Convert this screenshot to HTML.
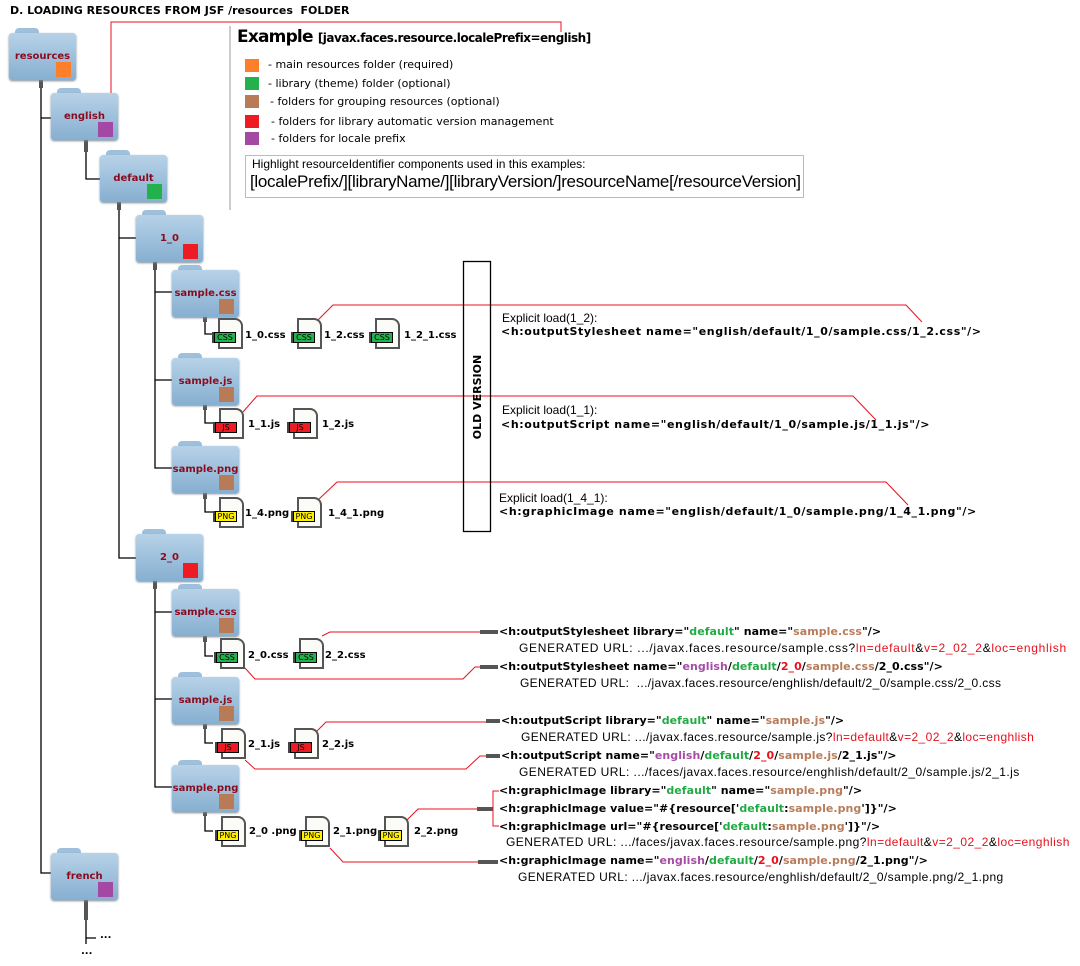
<!DOCTYPE html>
<html><head><meta charset="utf-8"><style>
*{margin:0;padding:0;box-sizing:border-box}
body{width:1080px;height:966px;background:#fff;position:relative;overflow:hidden;font-family:"DejaVu Sans","Liberation Sans",sans-serif}
.a{position:absolute;white-space:nowrap}
.f{position:absolute;width:67px;height:52px}
.f .t{position:absolute;left:6px;top:0;width:24px;height:8px;background:#9fc0dc;border-radius:4px 4px 0 0}
.f .b{position:absolute;left:0;top:5px;width:67px;height:47px;background:linear-gradient(#b7d2e8,#86afd0);border-radius:3px;box-shadow:0 1px 2px #789}
.f .l{position:absolute;left:0;width:67px;top:23px;text-align:center;font-size:10px;font-weight:bold;color:#8b0a1e}
.f .s{position:absolute;right:5px;bottom:3px;width:15px;height:15px}
.i{position:absolute;width:25px;height:31px;background:#fbfbf8;border:2px solid #555;border-top-right-radius:8px}
.i .g{position:absolute;left:-6px;top:12px;width:22px;height:11px;border:1px solid #000;font-size:8px;line-height:9px;text-align:center;color:#000;box-shadow:-2px 0 0 #444}
.fl{position:absolute;font-size:10px;font-weight:bold;color:#000}
.c{position:absolute;white-space:nowrap;font-size:11px;font-weight:bold;color:#000;font-family:"DejaVu Sans",sans-serif;letter-spacing:0.05px}
.e{letter-spacing:0.6px}
.u{position:absolute;white-space:nowrap;font-size:12px;color:#000;font-family:"Liberation Sans",sans-serif;letter-spacing:0.6px}
.gr{color:#22aa44}.br{color:#b87c5a}.pu{color:#a64ca6}.rd{color:#e8101c}
.leg{position:absolute;left:245px;width:14px;height:13px}
.lt{position:absolute;left:268px;font-size:11px;color:#000}
</style></head><body>
<svg class="a" style="left:0;top:0" width="1080" height="966">
<g stroke="#000" stroke-width="1.3" fill="none">
<path d="M41 86V873H51M41 118H51"/>
<path d="M86 150V179H100"/>
<path d="M119 206V558H136M119 238H136"/>
<path d="M155 268V468H172M155 292H172M155 380H172"/>
<path d="M155 587V787H172M155 612H172M155 699H172"/>
<path d="M205 320V334H213M205 408V423H213M205 497V512H213"/>
<path d="M205 640V656H213M205 727V743H213M205 814V831H213"/>
<path d="M86 903V944M86 938H96"/>
</g>
<g stroke="#555" stroke-width="4">
<path d="M41 80V88M86 140V152M119 200V210M155 262V270M155 580V589M205 317V322M205 405V410M205 493V499M205 635V642M205 724V729M205 812V816M86 900V920"/>
<path d="M480 632H498M480 667H498M486 721H500M486 756H500M477 809H493M478 862H498"/>
</g>
<g stroke="#e8101c" stroke-width="1" fill="none">
<path d="M111 95V22H561V32"/>
<path d="M318 320L333 305H906L922 322"/>
<path d="M243 412L257 396H853L876 420"/>
<path d="M318 500L337 482H886L908 505"/>
<path d="M322 636L330 632H480"/>
<path d="M245 668L255 679H463L475 667H480"/>
<path d="M316 732L326 722H486"/>
<path d="M245 760L255 769H466L480 756H486"/>
<path d="M407 820L418 809H477"/>
<path d="M499 791H493V826H499"/>
<path d="M330 848L343 862H478"/>
</g>
<path d="M230 26V210" stroke="#bbb" stroke-width="1.5"/>
<rect x="463.5" y="261.5" width="27" height="270" fill="none" stroke="#000" stroke-width="1.3"/>
<rect x="245.5" y="155.5" width="558" height="42" fill="none" stroke="#bbb"/>
<text x="481" y="397" transform="rotate(-90 481 397)" text-anchor="middle" font-size="11" font-weight="bold" font-family="DejaVu Sans,sans-serif" fill="#000">OLD VERSION</text>
</svg>

<div class="a" style="left:10px;top:4px;font-size:11px;font-weight:bold">D. LOADING RESOURCES FROM JSF /resources&nbsp; FOLDER</div>
<div class="a" style="left:237px;top:27px;font-size:17px;font-weight:bold;letter-spacing:-0.8px">Example <span style="font-size:12px;letter-spacing:-0.5px">[javax.faces.resource.localePrefix=english]</span></div>
<div class="leg" style="top:59px;background:#fd7f2b"></div><div class="lt" style="top:58px">- main resources folder (required)</div>
<div class="leg" style="top:77px;background:#22b14c"></div><div class="lt" style="top:77px">- library (theme) folder (optional)</div>
<div class="leg" style="top:95px;background:#b97a57"></div><div class="lt" style="top:95px;left:270px">- folders for grouping resources (optional)</div>
<div class="leg" style="top:115px;background:#ed1c24"></div><div class="lt" style="top:115px;left:271px">- folders for library automatic version management</div>
<div class="leg" style="top:132px;background:#a349a4"></div><div class="lt" style="top:132px;left:271px">- folders for locale prefix</div>
<div class="a" style="left:252px;top:157px;font-size:12px;font-family:'Liberation Sans',sans-serif">Highlight resourceIdentifier components used in this examples:</div>
<div class="a" style="left:250px;top:172px;font-size:17px;font-family:'Liberation Sans',sans-serif;letter-spacing:-0.3px">[localePrefix/][libraryName/][libraryVersion/]resourceName[/resourceVersion]</div>

<div class="f" style="left:9px;top:28px"><div class="t"></div><div class="b"></div><div class="l">resources</div><div class="s" style="background:#fd7f2b"></div></div>
<div class="f" style="left:51px;top:88px"><div class="t"></div><div class="b"></div><div class="l">english</div><div class="s" style="background:#a349a4"></div></div>
<div class="f" style="left:100px;top:150px"><div class="t"></div><div class="b"></div><div class="l">default</div><div class="s" style="background:#22b14c"></div></div>
<div class="f" style="left:136px;top:210px"><div class="t"></div><div class="b"></div><div class="l">1_0</div><div class="s" style="background:#ed1c24"></div></div>
<div class="f" style="left:172px;top:265px"><div class="t"></div><div class="b"></div><div class="l">sample.css</div><div class="s" style="background:#b97a57"></div></div>
<div class="f" style="left:172px;top:353px"><div class="t"></div><div class="b"></div><div class="l">sample.js</div><div class="s" style="background:#b97a57"></div></div>
<div class="f" style="left:172px;top:441px"><div class="t"></div><div class="b"></div><div class="l">sample.png</div><div class="s" style="background:#b97a57"></div></div>
<div class="f" style="left:136px;top:529px"><div class="t"></div><div class="b"></div><div class="l">2_0</div><div class="s" style="background:#ed1c24"></div></div>
<div class="f" style="left:172px;top:584px"><div class="t"></div><div class="b"></div><div class="l">sample.css</div><div class="s" style="background:#b97a57"></div></div>
<div class="f" style="left:172px;top:672px"><div class="t"></div><div class="b"></div><div class="l">sample.js</div><div class="s" style="background:#b97a57"></div></div>
<div class="f" style="left:172px;top:760px"><div class="t"></div><div class="b"></div><div class="l">sample.png</div><div class="s" style="background:#b97a57"></div></div>
<div class="f" style="left:51px;top:848px"><div class="t"></div><div class="b"></div><div class="l">french</div><div class="s" style="background:#a349a4"></div></div>
<div class="fl" style="left:100px;top:930px">...</div>
<div class="fl" style="left:81px;top:946px">...</div>

<div class="i" style="left:218px;top:318px"><div class="g" style="background:#22b14c">CSS</div></div><div class="fl" style="left:245px;top:330px">1_0.css</div>
<div class="i" style="left:297px;top:318px"><div class="g" style="background:#22b14c">CSS</div></div><div class="fl" style="left:324px;top:330px">1_2.css</div>
<div class="i" style="left:375px;top:318px"><div class="g" style="background:#22b14c">CSS</div></div><div class="fl" style="left:404px;top:330px">1_2_1.css</div>
<div class="i" style="left:219px;top:408px"><div class="g" style="background:#ed1c24">JS</div></div><div class="fl" style="left:248px;top:419px">1_1.js</div>
<div class="i" style="left:293px;top:408px"><div class="g" style="background:#ed1c24">JS</div></div><div class="fl" style="left:322px;top:419px">1_2.js</div>
<div class="i" style="left:219px;top:497px"><div class="g" style="background:#ffef00">PNG</div></div><div class="fl" style="left:245px;top:508px">1_4.png</div>
<div class="i" style="left:297px;top:497px"><div class="g" style="background:#ffef00">PNG</div></div><div class="fl" style="left:328px;top:508px">1_4_1.png</div>
<div class="i" style="left:220px;top:638px"><div class="g" style="background:#22b14c">CSS</div></div><div class="fl" style="left:248px;top:650px">2_0.css</div>
<div class="i" style="left:299px;top:638px"><div class="g" style="background:#22b14c">CSS</div></div><div class="fl" style="left:325px;top:650px">2_2.css</div>
<div class="i" style="left:221px;top:728px"><div class="g" style="background:#ed1c24">JS</div></div><div class="fl" style="left:248px;top:739px">2_1.js</div>
<div class="i" style="left:294px;top:728px"><div class="g" style="background:#ed1c24">JS</div></div><div class="fl" style="left:322px;top:739px">2_2.js</div>
<div class="i" style="left:221px;top:816px"><div class="g" style="background:#ffef00">PNG</div></div><div class="fl" style="left:249px;top:826px">2_0 .png</div>
<div class="i" style="left:305px;top:816px"><div class="g" style="background:#ffef00">PNG</div></div><div class="fl" style="left:333px;top:826px">2_1.png</div>
<div class="i" style="left:384px;top:816px"><div class="g" style="background:#ffef00">PNG</div></div><div class="fl" style="left:414px;top:826px">2_2.png</div>

<div class="u" style="left:502px;top:311px;letter-spacing:0">Explicit load(1_2):</div>
<div class="c e" style="left:501px;top:325px">&lt;h:outputStylesheet name="english/default/1_0/sample.css/1_2.css"/&gt;</div>
<div class="u" style="left:502px;top:403px;letter-spacing:0">Explicit load(1_1):</div>
<div class="c e" style="left:501px;top:418px">&lt;h:outputScript name="english/default/1_0/sample.js/1_1.js"/&gt;</div>
<div class="u" style="left:499px;top:491px;letter-spacing:0">Explicit load(1_4_1):</div>
<div class="c e" style="left:499px;top:505px">&lt;h:graphicImage name="english/default/1_0/sample.png/1_4_1.png"/&gt;</div>

<div class="c" style="left:499px;top:625px">&lt;h:outputStylesheet library="<span class="gr">default</span>" name="<span class="br">sample.css</span>"/&gt;</div>
<div class="u" style="left:519px;top:641px;letter-spacing:0.7px">GENERATED URL: .../javax.faces.resource/sample.css?<span class="rd">ln=default</span>&amp;<span class="rd">v=2_02_2</span>&amp;<span class="rd">loc=enghlish</span></div>
<div class="c" style="left:499px;top:660px">&lt;h:outputStylesheet name="<span class="pu">english</span>/<span class="gr">default</span>/<span class="rd">2_0</span>/<span class="br">sample.css</span>/2_0.css"/&gt;</div>
<div class="u" style="left:520px;top:676px;letter-spacing:0.35px">GENERATED URL:&nbsp; .../javax.faces.resource/enghlish/default/2_0/sample.css/2_0.css</div>
<div class="c" style="left:501px;top:714px">&lt;h:outputScript library="<span class="gr">default</span>" name="<span class="br">sample.js</span>"/&gt;</div>
<div class="u" style="left:521px;top:730px;letter-spacing:0.4px">GENERATED URL: .../javax.faces.resource/sample.js?<span class="rd">ln=default</span>&amp;<span class="rd">v=2_02_2</span>&amp;<span class="rd">loc=enghlish</span></div>
<div class="c" style="left:501px;top:749px">&lt;h:outputScript name="<span class="pu">english</span>/<span class="gr">default</span>/<span class="rd">2_0</span>/<span class="br">sample.js</span>/2_1.js"/&gt;</div>
<div class="u" style="left:519px;top:765px;letter-spacing:0.45px">GENERATED URL: .../faces/javax.faces.resource/enghlish/default/2_0/sample.js/2_1.js</div>
<div class="c" style="left:499px;top:784px">&lt;h:graphicImage library="<span class="gr">default</span>" name="<span class="br">sample.png</span>"/&gt;</div>
<div class="c" style="left:499px;top:802px">&lt;h:graphicImage value="#{resource['<span class="gr">default</span>:<span class="br">sample.png</span>']}"/&gt;</div>
<div class="c" style="left:499px;top:820px">&lt;h:graphicImage url="#{resource['<span class="gr">default</span>:<span class="br">sample.png</span>']}"/&gt;</div>
<div class="u" style="left:506px;top:835px;letter-spacing:0.45px">GENERATED URL: .../faces/javax.faces.resource/sample.png?<span class="rd">ln=default</span>&amp;<span class="rd">v=2_02_2</span>&amp;<span class="rd">loc=enghlish</span></div>
<div class="c" style="left:499px;top:854px">&lt;h:graphicImage name="<span class="pu">english</span>/<span class="gr">default</span>/<span class="rd">2_0</span>/<span class="br">sample.png</span>/2_1.png"/&gt;</div>
<div class="u" style="left:518px;top:870px;letter-spacing:0.4px">GENERATED URL: .../javax.faces.resource/enghlish/default/2_0/sample.png/2_1.png</div>
</body></html>
